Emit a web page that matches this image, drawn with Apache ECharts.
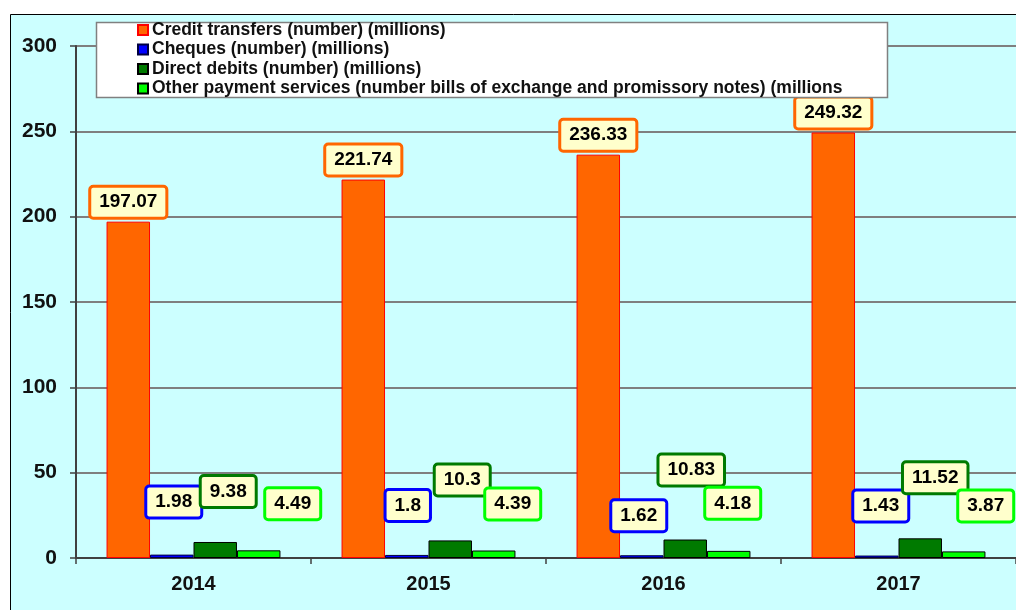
<!DOCTYPE html>
<html lang="en">
<head>
<meta charset="UTF-8">
<title>Payment services</title>
<script src="https://cdn.jsdelivr.net/npm/echarts@6/dist/echarts.min.js"></script>
<style>
  html, body { margin: 0; padding: 0; background: #fff; }
  #chart { width: 1016px; height: 610px; }
</style>
</head>
<body>
<div id="chart"></div>
<script>
    // data
    var years = ['2014', '2015', '2016', '2017'];
    var seriesNames = [
        'Credit transfers (number) (millions)',
        'Cheques (number) (millions)',
        'Direct debits (number) (millions)',
        'Other payment services (number bills of exchange and promissory notes) (millions'
    ];
    var creditTransfers = [197.07, 221.74, 236.33, 249.32];
    var cheques = [1.98, 1.8, 1.62, 1.43];
    var directDebits = [9.38, 10.3, 10.83, 11.52];
    var otherServices = [4.49, 4.39, 4.18, 3.87];

    // hand-placed label boxes (like the excel original), [dx, dy] in px
    var chequeShift = [[2, -38], [1, -35], [-3, -25], [4, -35]];
    var debitShift = [[13, -36], [12, -46], [6, -55], [15, -46]];
    var otherShift = [[34, -32], [19, -32], [4, -33], [22, -31]];

    var font = 'Liberation Sans, Arial, sans-serif';

    function boxLabel(color, shift) {
        return {
            show: true,
            position: 'top',
            distance: 0,
            fontFamily: font,
            fontSize: 19,
            fontWeight: 'bold',
            color: '#000',
            lineHeight: 19,
            backgroundColor: '#FFFFCC',
            borderColor: color,
            borderWidth: 3,
            borderRadius: 2,
            padding: [5, 8, 5, 8],
            offset: shift || [0, 0]
        };
    }

    function withShift(values, color, shifts) {
        return values.map(function (v, i) {
            return { value: v, label: boxLabel(color, shifts[i]) };
        });
    }

    var chart = echarts.init(document.getElementById('chart'));
    var option = {
        animation: false,
        textStyle: { fontFamily: font },
        graphic: [
            {   // cyan plot panel
                type: 'rect', z: -10,
                shape: { x: 10.5, y: 14.5, width: 1100, height: 700 },
                style: { fill: '#CCFFFF', stroke: '#000', lineWidth: 1 }
            },
            {   // legend frame
                type: 'rect', z: 3,
                shape: { x: 96.5, y: 22.5, width: 791, height: 75 },
                style: { fill: '#fff', stroke: '#808080', lineWidth: 1.5 }
            }
        ],
        legend: {
            orient: 'vertical',
            left: 137,
            top: 21,
            padding: 0,
            itemGap: 1.5,
            itemWidth: 10,
            itemHeight: 10,
            icon: 'rect',
            textStyle: { fontFamily: font, fontSize: 17.5, fontWeight: 'bold', color: '#111', padding: [0, 0, 0, -1] },
            data: seriesNames
        },
        grid: { left: 76, right: -4, top: 46, bottom: 52 },
        xAxis: {
            type: 'category',
            data: years,
            axisLine: { lineStyle: { color: '#404040', width: 2 } },
            axisTick: { show: true, length: 6, lineStyle: { color: '#404040', width: 1.5 } },
            axisLabel: { fontFamily: font, fontSize: 20, fontWeight: 'bold', color: '#111', margin: 16 }
        },
        yAxis: {
            type: 'value',
            min: 0,
            max: 300,
            interval: 50,
            axisLine: { show: true, lineStyle: { color: '#404040', width: 2 } },
            axisTick: { show: true, length: 6, lineStyle: { color: '#404040', width: 1.5 } },
            axisLabel: { fontFamily: font, fontSize: 21, fontWeight: 'bold', color: '#111', margin: 19 },
            splitLine: { lineStyle: { color: '#7f7f7f', width: 2 } }
        },
        series: [
            {
                name: seriesNames[0], type: 'bar', data: creditTransfers,
                barGap: '0%', barCategoryGap: '26%',
                itemStyle: { color: '#FF6600', borderColor: '#FF0000', borderWidth: 1 },
                label: Object.assign(boxLabel('#FF6600'), { distance: 5 })
            },
            {
                name: seriesNames[1], type: 'bar', data: withShift(cheques, '#0000FF', chequeShift),
                barGap: '0%', barCategoryGap: '26%',
                itemStyle: { color: '#0000FF', borderColor: '#000040', borderWidth: 1 }
            },
            {
                name: seriesNames[2], type: 'bar', data: withShift(directDebits, '#007A00', debitShift),
                barGap: '0%', barCategoryGap: '26%',
                itemStyle: { color: '#007A00', borderColor: '#000', borderWidth: 1 }
            },
            {
                name: seriesNames[3], type: 'bar', data: withShift(otherServices, '#00FF00', otherShift),
                barGap: '0%', barCategoryGap: '26%',
                itemStyle: { color: '#00FF00', borderColor: '#000', borderWidth: 1 }
            }
        ]
    };
    chart.setOption(option);
</script>
</body>
</html>
